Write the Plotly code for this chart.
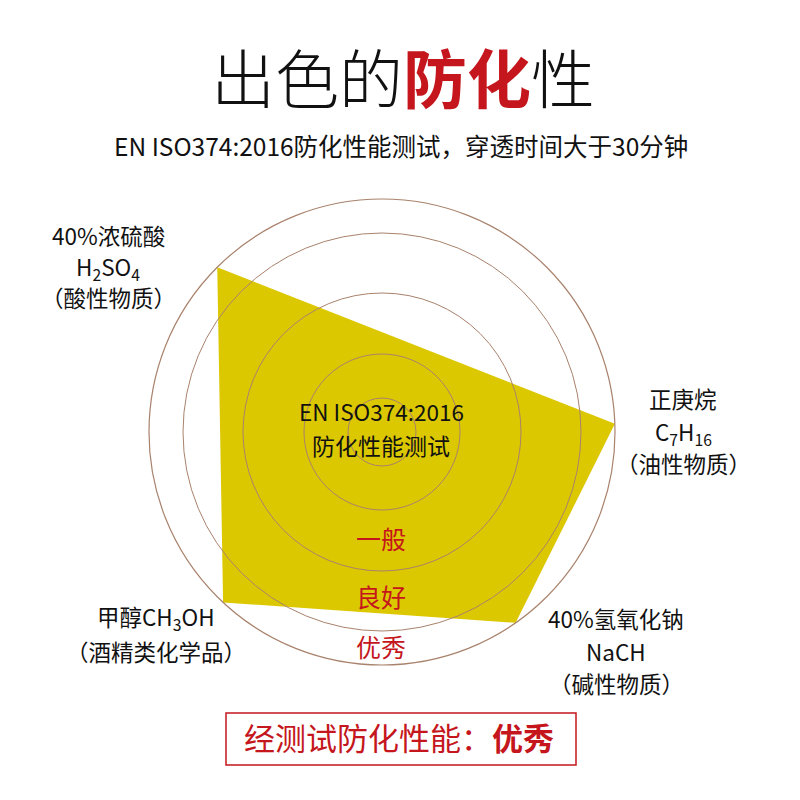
import plotly.graph_objects as go

# data
chemicals = ["40%浓硫酸", "正庚烷", "40%氢氧化钠", "甲醇"]
chem_lines = [
    ["40%浓硫酸", "H<sub>2</sub>SO<sub>4</sub>", "（酸性物质）"],
    ["正庚烷", "C<sub>7</sub>H<sub>16</sub>", "（油性物质）"],
    ["40%氢氧化钠", "NaCH", "（碱性物质）"],
    ["甲醇CH<sub>3</sub>OH", "（酒精类化学品）"],
]
angles = [135, 2, -55, -133]          # direction of each chemical on the chart
scores = [233, 233, 233, 233]         # all at the outer ring (优秀)
ring_levels = [34, 78, 139, 199]
r_max = 233
grade_labels = ["一般", "良好", "优秀"]

W = H = 800
FONT = "Noto Sans CJK SC"
YELLOW = "#dcc800"
BROWN = "#a9826c"
RED = "#c4161c"


def px(x):
    return x / W


def py(y):
    return 1 - y / H


cx, cy = 382, 432
dom_x = [px(cx - r_max), px(cx + r_max)]
dom_y = [py(cy + r_max), py(cy - r_max)]

fig = go.Figure()
fig.add_trace(go.Scatterpolar(
    r=scores + scores[:1], theta=angles + angles[:1],
    mode="lines", fill="toself", fillcolor=YELLOW,
    line=dict(color=YELLOW, width=0), hoverinfo="skip",
    subplot="polar"))
# empty trace so the overlaid ring subplot is drawn on top
fig.add_trace(go.Scatterpolar(r=[], theta=[], subplot="polar2", hoverinfo="skip"))

fig.update_layout(
    width=W, height=H, margin=dict(l=0, r=0, t=0, b=0),
    paper_bgcolor="white", showlegend=False,
    polar=dict(domain=dict(x=dom_x, y=dom_y), bgcolor="white",
               radialaxis=dict(range=[0, r_max], visible=False),
               angularaxis=dict(visible=False)),
    polar2=dict(domain=dict(x=dom_x, y=dom_y), bgcolor="rgba(0,0,0,0)",
                radialaxis=dict(range=[0, r_max], tickvals=ring_levels,
                                showticklabels=False, ticks="", showline=False,
                                gridcolor=BROWN, gridwidth=1.2),
                angularaxis=dict(showgrid=False, showticklabels=False, ticks="",
                                 showline=True, linecolor=BROWN, linewidth=1.2)),
)

ann = []


def text(x, y, s, size, color="#111111", weight="normal"):
    # CJK glyphs sit a little low when middle-anchored, nudge up
    ann.append(dict(x=px(x), y=py(y - 0.1 * size), xref="paper", yref="paper",
                    text=s, showarrow=False, xanchor="center", yanchor="middle",
                    font=dict(family=FONT, size=size, color=color, weight=weight)))


text(403, 81, "出色的<b><span style='color:%s'>防化</span></b>性" % RED, 64, weight=300)
text(401, 148, "EN ISO374:2016防化性能测试，穿透时间大于30分钟", 24.5)
text(381, 413, "EN ISO374:2016", 22.5)
text(381, 447, "防化性能测试", 23)

for s, y in zip(grade_labels, [540, 598, 648]):
    text(381, y, s, 25, RED)

label_pos = [(108, [237, 270, 299]), (683, [400, 435, 465]),
             (616, [620, 653, 685]), (156, [620, 653])]
for lines, (x, ys) in zip(chem_lines, label_pos):
    for s, y in zip(lines, ys):
        text(x, y, s, 22.5)

text(399, 740, "经测试防化性能：<b>优秀</b>", 31, RED)
fig.update_layout(annotations=ann)
fig.add_shape(type="rect", xref="paper", yref="paper",
              x0=px(226), x1=px(576), y0=py(765), y1=py(713),
              line=dict(color=RED, width=1.5))

fig.write_html("out.html", config={"displayModeBar": False},
               post_script="document.body.style.margin='0';")
